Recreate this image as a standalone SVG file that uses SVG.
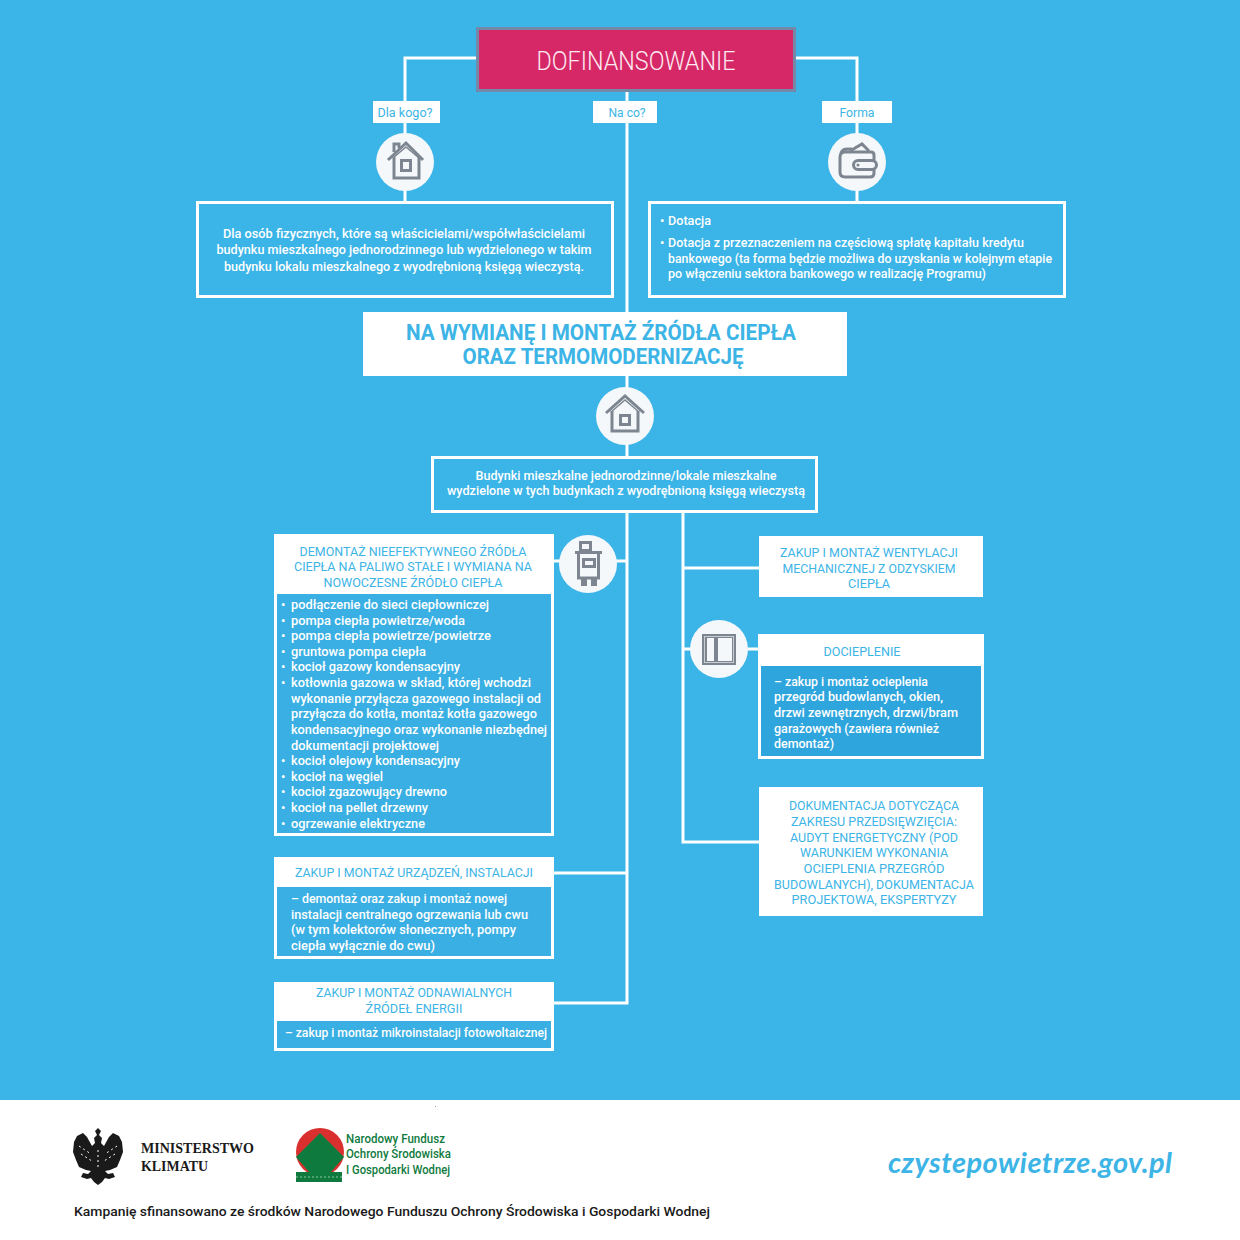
<svg xmlns="http://www.w3.org/2000/svg" width="1240" height="1240" viewBox="0 0 1240 1240">
<defs>
<style>
text{font-family:Roboto,"Liberation Sans",sans-serif}
.w{fill:#fff;font-size:12.5px;font-weight:500}
.b{fill:#3cb4e6;font-size:12.5px}
.m{text-anchor:middle}
.box{fill:none;stroke:#fff;stroke-width:3}
.white{fill:#fff}
.dark{fill:#3aafe3}
.dark2{fill:#2fa5de}
.line{fill:none;stroke:#fff;stroke-width:3}
.disc{fill:#f4f8fb}
.ic{fill:none;stroke:#7d8690;stroke-width:3}
.icf{fill:#7d8690}
</style>
</defs>
<rect width="1240" height="1100" fill="#3bb4e7"/>
<rect y="1100" width="1240" height="140" fill="#fff"/>
<rect x="435" y="1106" width="1" height="1" fill="#999"/>

<g id="connectors" class="line">
<path d="M477 58H405V202"/>
<path d="M795 58H857V202"/>
<path d="M627 90V312"/>
<path d="M627 376V457"/>
<path d="M627 512V1003H554"/>
<path d="M683 512V842H759"/>
<path d="M683 568H759"/>
<path d="M683 649H759"/>
<path d="M627 561H553"/>
<path d="M627 873H554"/>
</g>

<g id="dofinansowanie">
<rect x="477.500" y="28.500" width="317" height="62" fill="#d62866" stroke="#7389a8" stroke-width="3"/>
<text x="636" y="70" class="m" fill="#fdeaf2" font-size="25" textLength="199" lengthAdjust="spacingAndGlyphs" font-weight="300">DOFINANSOWANIE</text>
</g>

<g id="dla-kogo"><rect x="373" y="101" width="67" height="22" class="white"/><text x="405" y="117" class="b m" textLength="55" lengthAdjust="spacingAndGlyphs">Dla kogo?</text></g>
<g id="na-co"><rect x="593" y="101" width="64" height="22" class="white"/><text x="627" y="117" class="b m" textLength="37" lengthAdjust="spacingAndGlyphs">Na co?</text></g>
<g id="forma"><rect x="822" y="101" width="70" height="22" class="white"/><text x="857" y="117" class="b m" textLength="35" lengthAdjust="spacingAndGlyphs">Forma</text></g>

<g id="icon-dom1">
<circle cx="405" cy="162" r="29" class="disc"/>
<path class="ic" d="M388 160L406 143L423 160"/>
<path fill="none" stroke="#7d8690" stroke-width="1.500" d="M393 158L406 147L419 158"/>
<path class="ic" d="M394 157V178H419V157M394 152V144H399V148"/>
<rect x="401.500" y="160.500" width="9" height="10" class="ic"/>
</g>
<g id="icon-portfel">
<circle cx="857" cy="162" r="29" class="disc"/>
<path class="ic" d="M874 160V155Q874 152 871 152H845Q840 152 840 157V172Q840 177 845 177H870Q874 177 874 173V170"/>
<path class="ic" d="M841 153Q842 149 848 149H852M850 151L862 144L869 151"/>
<rect x="853.500" y="160.500" width="23" height="9" rx="4.500" class="ic"/>
<circle cx="858" cy="165" r="1.500" class="icf"/>
</g>

<g id="dla-kogo-opis">
<rect x="197.500" y="202.500" width="415" height="94" class="box"/>
<text class="w m" x="404" y="238" textLength="362" lengthAdjust="spacingAndGlyphs">Dla osób fizycznych, które są właścicielami/współwłaścicielami</text>
<text class="w m" x="404" y="254" textLength="375" lengthAdjust="spacingAndGlyphs">budynku mieszkalnego jednorodzinnego lub wydzielonego w takim</text>
<text class="w m" x="404" y="271" textLength="360" lengthAdjust="spacingAndGlyphs">budynku lokalu mieszkalnego z wyodrębnioną księgą wieczystą.</text>
</g>

<g id="forma-opis">
<rect x="649.500" y="202.500" width="415" height="94" class="box"/>
<text class="w" x="660" y="225">•</text><text class="w" x="668" y="225" textLength="43" lengthAdjust="spacingAndGlyphs">Dotacja</text>
<text class="w" x="660" y="247">•</text><text class="w" x="668" y="247" textLength="356" lengthAdjust="spacingAndGlyphs">Dotacja z przeznaczeniem na częściową spłatę kapitału kredytu</text>
<text class="w" x="668" y="263" textLength="384" lengthAdjust="spacingAndGlyphs">bankowego (ta forma będzie możliwa do uzyskania w kolejnym etapie</text>
<text class="w" x="668" y="278" textLength="318" lengthAdjust="spacingAndGlyphs">po włączeniu sektora bankowego w realizację Programu)</text>
</g>

<g id="na-wymiane">
<rect x="363" y="312" width="484" height="64" class="white"/>
<text class="m" x="601" y="340" fill="#3cb4e6" font-size="22" font-weight="700" textLength="390" lengthAdjust="spacingAndGlyphs">NA WYMIANĘ I MONTAŻ ŹRÓDŁA CIEPŁA</text>
<text class="m" x="603" y="364" fill="#3cb4e6" font-size="22" font-weight="700" textLength="281" lengthAdjust="spacingAndGlyphs">ORAZ TERMOMODERNIZACJĘ</text>
</g>

<g id="icon-dom2">
<circle cx="625" cy="416" r="29" class="disc"/>
<path class="ic" d="M606 413L625 396L644 413"/>
<path fill="none" stroke="#7d8690" stroke-width="1.500" d="M611 412L625 400L639 412"/>
<path class="ic" d="M612 411V431H638V411"/>
<rect x="620.500" y="415.500" width="9" height="9" class="ic"/>
</g>

<g id="budynki">
<rect x="432.500" y="457.500" width="384" height="54" fill="#3bb4e7" stroke="#fff" stroke-width="3"/>
<text class="w m" x="626" y="480" textLength="301" lengthAdjust="spacingAndGlyphs">Budynki mieszkalne jednorodzinne/lokale mieszkalne</text>
<text class="w m" x="626" y="495" textLength="358" lengthAdjust="spacingAndGlyphs">wydzielone w tych budynkach z wyodrębnioną księgą wieczystą</text>
</g>

<g id="demontaz">
<rect x="274" y="534" width="280" height="302" class="white"/>
<rect x="277" y="594" width="274" height="239" class="dark"/>
<text class="b m" x="413" y="556" textLength="227" lengthAdjust="spacingAndGlyphs">DEMONTAŻ NIEEFEKTYWNEGO ŹRÓDŁA</text>
<text class="b m" x="413" y="571" textLength="238" lengthAdjust="spacingAndGlyphs">CIEPŁA NA PALIWO STAŁE I WYMIANA NA</text>
<text class="b m" x="413" y="587" textLength="179" lengthAdjust="spacingAndGlyphs">NOWOCZESNE ŹRÓDŁO CIEPŁA</text>
<g>
<text class="w" x="281" y="609">•</text><text class="w" x="291" y="609" textLength="198" lengthAdjust="spacingAndGlyphs">podłączenie do sieci ciepłowniczej</text>
<text class="w" x="281" y="625">•</text><text class="w" x="291" y="625" textLength="174" lengthAdjust="spacingAndGlyphs">pompa ciepła powietrze/woda</text>
<text class="w" x="281" y="640">•</text><text class="w" x="291" y="640" textLength="200" lengthAdjust="spacingAndGlyphs">pompa ciepła powietrze/powietrze</text>
<text class="w" x="281" y="656">•</text><text class="w" x="291" y="656" textLength="135" lengthAdjust="spacingAndGlyphs">gruntowa pompa ciepła</text>
<text class="w" x="281" y="671">•</text><text class="w" x="291" y="671" textLength="169" lengthAdjust="spacingAndGlyphs">kocioł gazowy kondensacyjny</text>
<text class="w" x="281" y="687">•</text><text class="w" x="291" y="687" textLength="240" lengthAdjust="spacingAndGlyphs">kotłownia gazowa w skład, której wchodzi</text>
<text class="w" x="291" y="703" textLength="250" lengthAdjust="spacingAndGlyphs">wykonanie przyłącza gazowego instalacji od</text>
<text class="w" x="291" y="718" textLength="246" lengthAdjust="spacingAndGlyphs">przyłącza do kotła, montaż kotła gazowego</text>
<text class="w" x="291" y="734" textLength="256" lengthAdjust="spacingAndGlyphs">kondensacyjnego oraz wykonanie niezbędnej</text>
<text class="w" x="291" y="750" textLength="148" lengthAdjust="spacingAndGlyphs">dokumentacji projektowej</text>
<text class="w" x="281" y="765">•</text><text class="w" x="291" y="765" textLength="169" lengthAdjust="spacingAndGlyphs">kocioł olejowy kondensacyjny</text>
<text class="w" x="281" y="781">•</text><text class="w" x="291" y="781" textLength="92" lengthAdjust="spacingAndGlyphs">kocioł na węgiel</text>
<text class="w" x="281" y="796">•</text><text class="w" x="291" y="796" textLength="156" lengthAdjust="spacingAndGlyphs">kocioł zgazowujący drewno</text>
<text class="w" x="281" y="812">•</text><text class="w" x="291" y="812" textLength="137" lengthAdjust="spacingAndGlyphs">kocioł na pellet drzewny</text>
<text class="w" x="281" y="828">•</text><text class="w" x="291" y="828" textLength="134" lengthAdjust="spacingAndGlyphs">ogrzewanie elektryczne</text>
</g>
</g>

<g id="icon-kociol">
<circle cx="588" cy="564" r="29" class="disc"/>
<rect x="580.500" y="542.500" width="10" height="8" class="ic"/>
<path class="ic" d="M575 552.500H602"/>
<path class="ic" d="M578.500 552V578H598.500V552"/>
<rect x="583.500" y="559.500" width="11" height="7" class="ic" stroke-width="2"/>
<path class="icf" d="M581 578H587V586H581ZM591 578H597V586H591Z"/>
</g>

<g id="zakup-urzadzen">
<rect x="274" y="857" width="280" height="102" class="white"/>
<rect x="277" y="887" width="274" height="69" class="dark"/>
<text class="b m" x="414" y="877" textLength="238" lengthAdjust="spacingAndGlyphs">ZAKUP I MONTAŻ URZĄDZEŃ, INSTALACJI</text>
<text class="w" x="291" y="903" textLength="216" lengthAdjust="spacingAndGlyphs">– demontaż oraz zakup i montaż nowej</text>
<text class="w" x="291" y="919" textLength="237" lengthAdjust="spacingAndGlyphs">instalacji centralnego ogrzewania lub cwu</text>
<text class="w" x="291" y="934" textLength="225" lengthAdjust="spacingAndGlyphs">(w tym kolektorów słonecznych, pompy</text>
<text class="w" x="291" y="950" textLength="144" lengthAdjust="spacingAndGlyphs">ciepła wyłącznie do cwu)</text>
</g>

<g id="zakup-oze">
<rect x="274" y="982" width="280" height="69" class="white"/>
<rect x="277" y="1021" width="274" height="27" class="dark"/>
<text class="b m" x="414" y="997" textLength="196" lengthAdjust="spacingAndGlyphs">ZAKUP I MONTAŻ ODNAWIALNYCH</text>
<text class="b m" x="414" y="1013" textLength="97" lengthAdjust="spacingAndGlyphs">ŹRÓDEŁ ENERGII</text>
<text class="w" x="285" y="1037" textLength="262" lengthAdjust="spacingAndGlyphs">– zakup i montaż mikroinstalacji fotowoltaicznej</text>
</g>

<g id="wentylacja">
<rect x="759" y="536" width="224" height="61" class="white"/>
<text class="b m" x="869" y="557" textLength="178" lengthAdjust="spacingAndGlyphs">ZAKUP I MONTAŻ WENTYLACJI</text>
<text class="b m" x="869" y="573" textLength="173" lengthAdjust="spacingAndGlyphs">MECHANICZNEJ Z ODZYSKIEM</text>
<text class="b m" x="869" y="588" textLength="42" lengthAdjust="spacingAndGlyphs">CIEPŁA</text>
</g>

<g id="icon-okno">
<circle cx="719" cy="649" r="29" class="disc"/>
<rect x="702" y="634" width="34" height="31" fill="#7d8690"/>
<rect x="704.500" y="636.500" width="29" height="26" fill="none" stroke="#c9ced3"/>
<rect x="707" y="638" width="7" height="23" fill="#f4f8fb"/>
<rect x="718" y="638" width="14" height="23" fill="#f4f8fb"/>
</g>

<g id="docieplenie">
<rect x="758" y="634" width="226" height="125" class="white"/>
<rect x="761" y="666" width="220" height="90" class="dark2"/>
<text class="b m" x="862" y="656" textLength="77" lengthAdjust="spacingAndGlyphs">DOCIEPLENIE</text>
<text class="w" x="774" y="686" textLength="154" lengthAdjust="spacingAndGlyphs">– zakup i montaż ocieplenia</text>
<text class="w" x="774" y="701" textLength="169" lengthAdjust="spacingAndGlyphs">przegród budowlanych, okien,</text>
<text class="w" x="774" y="717" textLength="184" lengthAdjust="spacingAndGlyphs">drzwi zewnętrznych, drzwi/bram</text>
<text class="w" x="774" y="733" textLength="165" lengthAdjust="spacingAndGlyphs">garażowych (zawiera również</text>
<text class="w" x="774" y="748" textLength="60" lengthAdjust="spacingAndGlyphs">demontaż)</text>
</g>

<g id="dokumentacja">
<rect x="759" y="787" width="224" height="129" class="white"/>
<text class="b m" x="874" y="810" textLength="170" lengthAdjust="spacingAndGlyphs">DOKUMENTACJA DOTYCZĄCA</text>
<text class="b m" x="874" y="826" textLength="166" lengthAdjust="spacingAndGlyphs">ZAKRESU PRZEDSIĘWZIĘCIA:</text>
<text class="b m" x="874" y="842" textLength="168" lengthAdjust="spacingAndGlyphs">AUDYT ENERGETYCZNY (POD</text>
<text class="b m" x="874" y="857" textLength="148" lengthAdjust="spacingAndGlyphs">WARUNKIEM WYKONANIA</text>
<text class="b m" x="874" y="873" textLength="141" lengthAdjust="spacingAndGlyphs">OCIEPLENIA PRZEGRÓD</text>
<text class="b m" x="874" y="889" textLength="200" lengthAdjust="spacingAndGlyphs">BUDOWLANYCH), DOKUMENTACJA</text>
<text class="b m" x="874" y="904" textLength="165" lengthAdjust="spacingAndGlyphs">PROJEKTOWA, EKSPERTYZY</text>
</g>

<g id="ministerstwo">
<path fill="#1a1a1a" d="M98 1128L101 1131L99 1135L102 1138L101 1143L104 1146L109 1137L113 1133L119 1136L122 1142L123 1152L120 1160L117 1167L110 1170L105 1171L108 1174L113 1173L115 1177L109 1179L105 1178L102 1182L98 1185L94 1182L91 1178L87 1179L81 1177L83 1173L88 1174L91 1171L86 1170L79 1167L76 1160L73 1152L74 1142L77 1136L83 1133L87 1137L92 1146L95 1143L94 1138L97 1135L95 1131Z"/>
<g fill="none" stroke="#fff" stroke-width="1" stroke-dasharray="2 3">
<path d="M79 1146L91 1154M81 1154L92 1161M117 1146L105 1154M115 1154L104 1161M98 1150V1170"/>
</g>
<text x="141" y="1153" fill="#1a1a1a" font-size="14" font-weight="700" style="font-family:'Liberation Serif',serif" textLength="113" lengthAdjust="spacingAndGlyphs">MINISTERSTWO</text>
<text x="141" y="1171" fill="#1a1a1a" font-size="14" font-weight="700" style="font-family:'Liberation Serif',serif" textLength="67" lengthAdjust="spacingAndGlyphs">KLIMATU</text>
</g>

<g id="nfosigw">
<circle cx="320" cy="1152" r="24" fill="#d9302f"/>
<path fill="#0f7a3e" d="M320 1133L344 1157L331 1172H309L296 1157Z"/>
<rect x="296" y="1172" width="46" height="10" fill="#0f7a3e"/>
<path d="M296 1177H342" stroke="#8fc3a2" stroke-width="1" stroke-dasharray="2 2"/>
<g fill="#0f7a3e" font-size="13" font-weight="500">
<text x="346" y="1143" textLength="99" lengthAdjust="spacingAndGlyphs">Narodowy Fundusz</text>
<text x="346" y="1158" textLength="105" lengthAdjust="spacingAndGlyphs">Ochrony Środowiska</text>
<text x="346" y="1174" textLength="104" lengthAdjust="spacingAndGlyphs">I Gospodarki Wodnej</text>
</g>
</g>

<g id="stopka">
<text x="888" y="1173" fill="#3cb4e6" font-size="29" font-weight="700" font-style="italic" textLength="284" lengthAdjust="spacing" style="font-family:Lato,sans-serif">czystepowietrze.gov.pl</text>
<text x="74" y="1216" fill="#1a1a1a" font-size="13" font-weight="500" textLength="636" lengthAdjust="spacingAndGlyphs">Kampanię sfinansowano ze środków Narodowego Funduszu Ochrony Środowiska i Gospodarki Wodnej</text>
</g>
</svg>
